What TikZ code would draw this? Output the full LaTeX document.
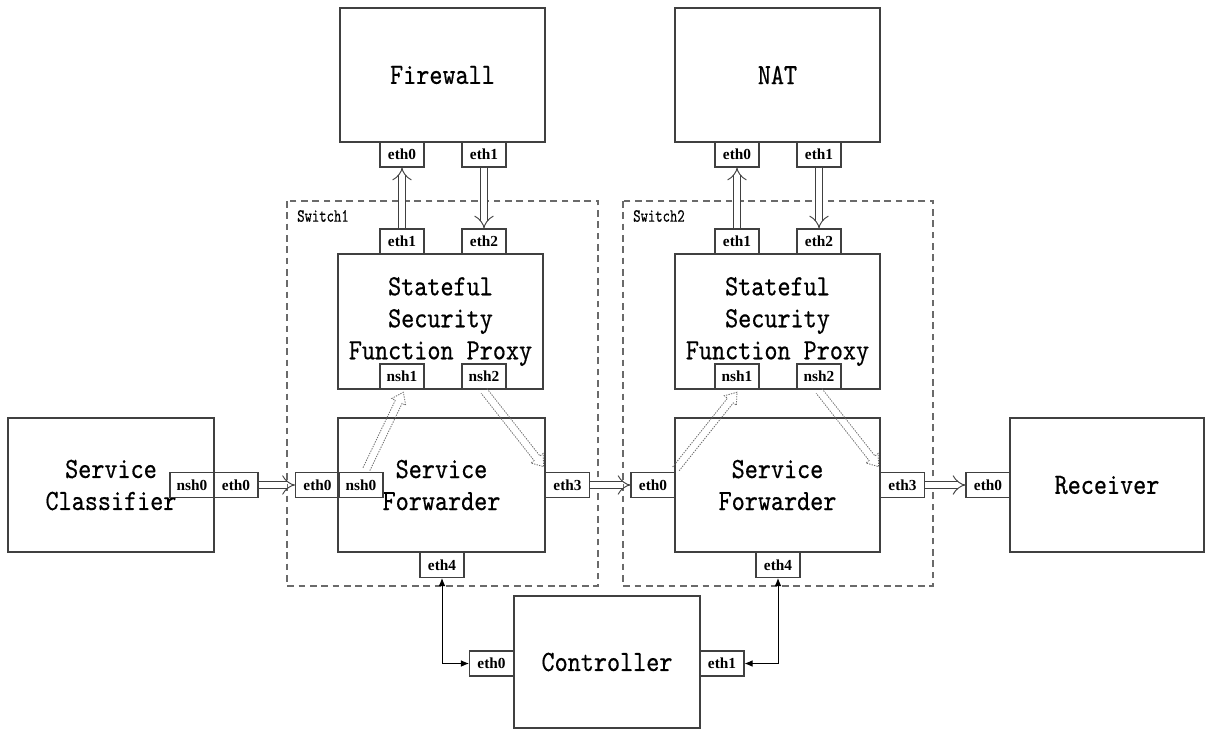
\documentclass[tikz,border=0pt]{standalone}
\usepackage{fontspec}
\usetikzlibrary{arrows.meta,calc}
\newfontfamily\boxfont[Extension=.otf,FakeBold=0.5,FakeStretch=0.85]{lmmono10-regular}
\newfontfamily\swfont[Extension=.otf,FakeBold=0.3,FakeStretch=0.75]{lmmono10-regular}
\newfontfamily\portfont{Liberation Serif}
\definecolor{netline}{HTML}{404040}
\definecolor{netdash}{HTML}{6A6A6A}
% dotted hollow arrow: name, from, to
\newcommand\nshlink[3]{%
  \coordinate (#1c) at ($(#3)!8pt!(#2)$);
  \draw[nshline] ($(#2)!2.8pt!90:(#3)$) -- ($(#1c)!2.8pt!-90:(#2)$)
    -- ($(#1c)!5.8pt!-90:(#2)$) -- (#3) -- ($(#1c)!5.8pt!90:(#2)$)
    -- ($(#1c)!2.8pt!90:(#2)$) -- ($(#2)!2.8pt!-90:(#3)$);}

\begin{document}
\begin{tikzpicture}[x=.75pt,y=-.75pt,
  box/.style 2 args={draw=netline,line width=.9pt,inner sep=0pt,align=center,
    minimum width=#1*.75pt,minimum height=#2*.75pt,
    font=\boxfont\fontsize{22}{24}\selectfont},
  port/.style={draw=netline,line width=.8pt,inner sep=0pt,
    minimum width=33pt,minimum height=18.75pt,
    font=\portfont\bfseries\fontsize{11.5}{12}\selectfont},
  swzone/.style={draw=netdash,line width=.9pt,dash pattern=on 5pt off 3.5pt},
  swlabel/.style={anchor=west,inner sep=0pt,font=\swfont\fontsize{14}{15}\selectfont},
  pipe/.style={draw=netline,line width=.7pt,double=white,double distance=4.5pt,-{Implies}},
  nshline/.style={draw=netdash,line width=.6pt,dash pattern=on 1pt off .9pt,line join=miter},
  ctlink/.style={draw=black,line width=.7pt,{Latex[length=6pt,width=5pt]}-{Latex[length=6pt,width=5pt]}}]
\path[use as bounding box] (0,0) rectangle (1212,732);
\fill[white] (0,0) rectangle (1212,732);

% switches
\path[swzone] (287,201) rectangle (598,586);
\path[swzone] (623,201) rectangle (933,586);
\node[swlabel] (sw1lbl) at (297,216) {Switch1};
\node[swlabel] (sw2lbl) at (633,216) {Switch2};

% functions and end points
\node[box={205}{134}] (fw) at (442.5,75) {Firewall};
\node[box={205}{134}] (nat) at (777.5,75) {NAT};
\node[box={205}{135}] (proxy1) at (440.5,321.5) {Stateful\\Security\\Function Proxy};
\node[box={205}{135}] (proxy2) at (777.5,321.5) {Stateful\\Security\\Function Proxy};
\node[box={207}{134}] (fwd1) at (441.5,485) {Service\\Forwarder};
\node[box={205}{134}] (fwd2) at (777.5,485) {Service\\Forwarder};
\node[box={206}{134}] (cls) at (111,485) {Service\\Classifier};
\node[box={194}{134}] (recv) at (1107,485) {Receiver};
\node[box={186}{132}] (ctrl) at (607,662) {Controller};

% ports
\node[port] (fw0) at (402,154.5) {eth0};
\node[port] (fw1) at (484,154.5) {eth1};
\node[port] (nat0) at (737,154.5) {eth0};
\node[port] (nat1) at (819,154.5) {eth1};
\node[port] (sa1) at (402,241.5) {eth1};
\node[port] (sa2) at (484,241.5) {eth2};
\node[port] (sb1) at (737,241.5) {eth1};
\node[port] (sb2) at (819,241.5) {eth2};
\node[port] (pa1) at (402,376.5) {nsh1};
\node[port] (pa2) at (484,376.5) {nsh2};
\node[port] (pb1) at (737,376.5) {nsh1};
\node[port] (pb2) at (819,376.5) {nsh2};
\node[port] (clsnsh) at (192,485) {nsh0};
\node[port] (clseth) at (236,485) {eth0};
\node[port] (fa0) at (317.5,485) {eth0};
\node[port] (fansh) at (361,485) {nsh0};
\node[port] (fa3) at (567.5,485) {eth3};
\node[port] (fa4) at (442,565) {eth4};
\node[port] (fb0) at (653,485) {eth0};
\node[port] (fb3) at (902.5,485) {eth3};
\node[port] (fb4) at (778,565) {eth4};
\node[port] (recv0) at (988,485) {eth0};
\node[port] (ctrl0) at (491.5,663.5) {eth0};
\node[port] (ctrl1) at (722,663.5) {eth1};

% traffic
\draw[pipe] (fw1.south) -- (sa2.north);
\draw[pipe] (sa1.north) -- (fw0.south);
\draw[pipe] (sb1.north) -- (nat0.south);
\draw[pipe] (nat1.south) -- (sb2.north);
\draw[pipe] (clseth.east) -- (fa0.west);
\draw[pipe] (fa3.east) -- (fb0.west);
\draw[pipe] (fb3.east) -- (recv0.west);

% nsh detours through the proxies
\coordinate (ua0) at ([xshift=4pt,yshift=2pt]fansh.north);
\coordinate (ua1) at ([xshift=1pt,yshift=-2pt]pa1.south);
\coordinate (ua2) at ([yshift=-1pt]pa2.south);
\coordinate (ua3) at ([xshift=-1pt,yshift=4pt]fa3.north west);
\coordinate (ub0) at ([yshift=2pt]fb0.north east);
\coordinate (ub1) at ([yshift=-2pt]pb1.south);
\coordinate (ub2) at ([yshift=-1pt]pb2.south);
\coordinate (ub3) at ([xshift=-1pt,yshift=4pt]fb3.north west);
\nshlink{ua}{ua0}{ua1}
\nshlink{va}{ua2}{ua3}
\nshlink{ub}{ub0}{ub1}
\nshlink{vb}{ub2}{ub3}

% control
\draw[ctlink] (fa4.south) |- (ctrl0.west);
\draw[ctlink] (fb4.south) |- (ctrl1.east);
\end{tikzpicture}
\end{document}
